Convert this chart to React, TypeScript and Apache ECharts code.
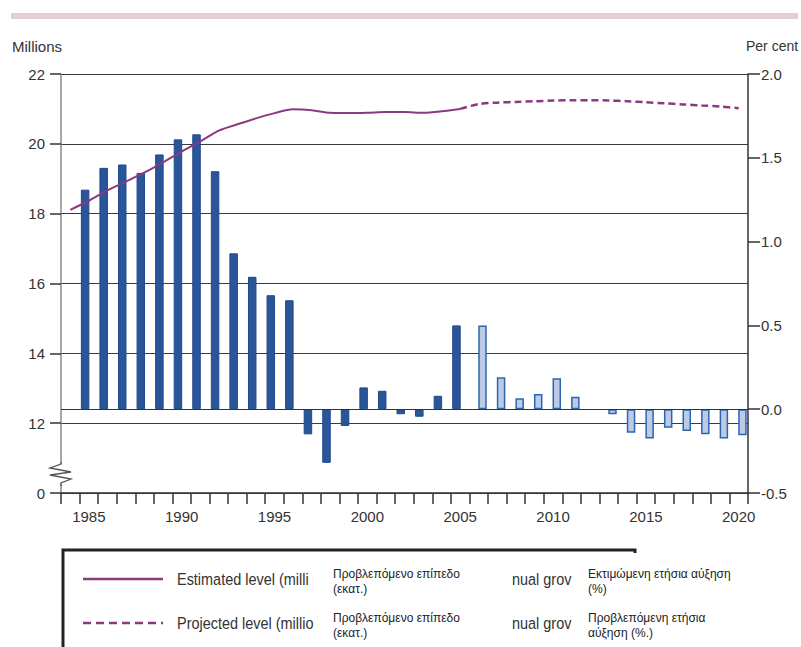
import React, { useEffect, useRef } from "react";
import * as echarts from "echarts";

const years = [
  "1984", "1985", "1986", "1987", "1988", "1989", "1990", "1991", "1992", "1993",
  "1994", "1995", "1996", "1997", "1998", "1999", "2000", "2001", "2002", "2003",
  "2004", "2005", "2006", "2007", "2008", "2009", "2010", "2011", "2012", "2013",
  "2014", "2015", "2016", "2017", "2018", "2019", "2020",
];

// Annual growth (per cent), right axis
const estimatedGrowth = [
  null, 1.31, 1.44, 1.46, 1.41, 1.52, 1.61, 1.64, 1.42, 0.93,
  0.79, 0.68, 0.65, -0.15, -0.32, -0.1, 0.13, 0.11, -0.03, -0.045,
  0.08, 0.5, null, null, null, null, null, null, null, null,
  null, null, null, null, null, null, null,
];
const projectedGrowth = [
  null, null, null, null, null, null, null, null, null, null,
  null, null, null, null, null, null, null, null, null, null,
  null, null, 0.5, 0.19, 0.065, 0.09, 0.185, 0.075, null, -0.03,
  -0.14, -0.175, -0.11, -0.13, -0.15, -0.175, -0.155,
];

// Level (millions), left axis
const estimatedLevel = [
  18.11, 18.37, 18.67, 18.92, 19.18, 19.47, 19.78, 20.07, 20.38, 20.56,
  20.73, 20.88, 20.99, 20.96, 20.89, 20.88, 20.89, 20.91, 20.91, 20.89,
  20.93, 21.0, null, null, null, null, null, null, null, null,
  null, null, null, null, null, null, null,
];
const projectedLevel = [
  null, null, null, null, null, null, null, null, null, null,
  null, null, null, null, null, null, null, null, null, null,
  null, 21.0, 21.14, 21.18, 21.2, 21.22, 21.24, 21.25, 21.25, 21.24,
  21.22, 21.19, 21.16, 21.13, 21.1, 21.07, 21.02,
];

const leftTicks = { min: 10, max: 22, interval: 2 };
const rightTicks = { min: -0.5, max: 2.0, interval: 0.5 };

const legendRows = [
  {
    label: "Estimated level (milli",
    greekLevel: "Προβλεπόμενο επίπεδο\n(εκατ.)",
    growthCut: "nual grov",
    greekGrowth: "Εκτιμώμενη ετήσια αύξηση\n(%)",
    dashed: false,
  },
  {
    label: "Projected level (millio",
    greekLevel: "Προβλεπόμενο επίπεδο\n(εκατ.)",
    growthCut: "nual grov",
    greekGrowth: "Προβλεπόμενη ετήσια\nαύξηση (%.)",
    dashed: true,
  },
];

const PURPLE = "#8c3a7f";
const TICK_FONT = "'Liberation Sans', Arial, sans-serif";

export default function App() {
  const ref = useRef<HTMLDivElement>(null);

  useEffect(() => {
    if (!ref.current) return;
    const chart = echarts.init(ref.current, null, { renderer: "svg" });

    const legendGraphics: any[] = [];
    legendRows.forEach((row, i) => {
      const cy = 579 + i * 44;
      legendGraphics.push({
        type: "line",
        shape: { x1: 83, y1: cy, x2: 163, y2: cy },
        style: {
          stroke: PURPLE,
          lineWidth: 2.5,
          lineDash: row.dashed ? [8, 5] : null,
        },
      });
      legendGraphics.push({
        type: "text",
        x: 177,
        y: cy,
        scaleX: 0.85,
        style: {
          text: row.label,
          font: `17px ${TICK_FONT}`,
          fill: "#333",
          verticalAlign: "middle",
        },
      });
      legendGraphics.push({
        type: "text",
        x: 333,
        y: cy - 13,
        style: {
          text: row.greekLevel,
          font: `12px ${TICK_FONT}`,
          lineHeight: 15,
          fill: "#222",
          verticalAlign: "top",
        },
      });
      legendGraphics.push({
        type: "text",
        x: 512,
        y: cy,
        scaleX: 0.85,
        style: {
          text: row.growthCut,
          font: `17px ${TICK_FONT}`,
          fill: "#333",
          verticalAlign: "middle",
        },
      });
      legendGraphics.push({
        type: "text",
        x: 588,
        y: cy - 13,
        style: {
          text: row.greekGrowth,
          font: `12px ${TICK_FONT}`,
          lineHeight: 15,
          fill: "#222",
          verticalAlign: "top",
        },
      });
    });

    const option: any = {
      animation: false,
      backgroundColor: "#ffffff",
      grid: { left: 61, top: 74, width: 687, height: 419, containLabel: false },
      xAxis: {
        type: "category",
        data: years,
        boundaryGap: true,
        axisLine: { show: true, onZero: false, lineStyle: { color: "#333", width: 1.5 } },
        axisTick: {
          show: true,
          interval: 0,
          length: 11,
          inside: false,
          lineStyle: { color: "#333", width: 1.5 },
        },
        axisLabel: {
          interval: (idx: number, val: string) => Number(val) % 5 === 0,
          margin: 16,
          fontSize: 15,
          fontFamily: TICK_FONT,
          color: "#333",
        },
        splitLine: { show: false },
      },
      yAxis: [
        {
          type: "value",
          position: "left",
          min: leftTicks.min,
          max: leftTicks.max,
          interval: leftTicks.interval,
          axisLine: { show: true, lineStyle: { color: "#8a8a8a", width: 1.5 } },
          axisTick: { show: true, length: 11, lineStyle: { color: "#333", width: 1.5 } },
          axisLabel: {
            margin: 16,
            fontSize: 15,
            fontFamily: TICK_FONT,
            color: "#333",
            formatter: (v: number) => (v === leftTicks.min ? "0" : String(v)),
          },
          splitLine: { show: true, lineStyle: { color: "#3a3a3a", width: 1.2 } },
        },
        {
          type: "value",
          position: "right",
          min: rightTicks.min,
          max: rightTicks.max,
          interval: rightTicks.interval,
          axisLine: { show: true, lineStyle: { color: "#333", width: 1.5 } },
          axisTick: { show: true, length: 12, lineStyle: { color: "#333", width: 1.5 } },
          axisLabel: {
            margin: 13,
            fontSize: 15,
            fontFamily: TICK_FONT,
            color: "#333",
            formatter: (v: number) => v.toFixed(1),
          },
          splitLine: { show: false },
        },
      ],
      series: [
        {
          name: "Estimated annual growth",
          type: "bar",
          yAxisIndex: 1,
          data: estimatedGrowth,
          barWidth: 8.5,
          barGap: "-12%",
          itemStyle: { color: "#2a5699", borderColor: "#1d4a8c", borderWidth: 1 },
          markLine: {
            silent: true,
            symbol: "none",
            label: { show: false },
            lineStyle: { color: "#333", width: 1.2, type: "solid" },
            data: [{ yAxis: 0 }],
          },
          z: 3,
        },
        {
          name: "Projected annual growth",
          type: "bar",
          yAxisIndex: 1,
          data: projectedGrowth,
          barWidth: 8.5,
          barGap: "-12%",
          itemStyle: { color: "#bdcae6", borderColor: "#2c66b0", borderWidth: 1.5 },
          z: 3,
        },
        {
          name: "Estimated level (millions)",
          type: "line",
          yAxisIndex: 0,
          data: estimatedLevel,
          smooth: 0.3,
          showSymbol: false,
          lineStyle: { color: PURPLE, width: 2 },
          z: 5,
        },
        {
          name: "Projected level (millions)",
          type: "line",
          yAxisIndex: 0,
          data: projectedLevel,
          smooth: 0.3,
          showSymbol: false,
          lineStyle: { color: PURPLE, width: 2.5, type: [7, 4] },
          z: 5,
        },
      ],
      graphic: [
        {
          type: "rect",
          shape: { x: 11, y: 13, width: 787, height: 6 },
          style: { fill: "#e3cddb" },
        },
        {
          type: "text",
          x: 12,
          y: 46,
          style: {
            text: "Millions",
            font: `15px ${TICK_FONT}`,
            fill: "#333",
            verticalAlign: "middle",
          },
        },
        {
          type: "text",
          x: 746,
          y: 46,
          style: {
            text: "Per cent",
            font: `14px ${TICK_FONT}`,
            fill: "#333",
            verticalAlign: "middle",
          },
        },
        // axis break
        {
          type: "rect",
          shape: { x: 57, y: 464, width: 8, height: 20 },
          style: { fill: "#ffffff" },
          z: 50,
        },
        {
          type: "polyline",
          shape: {
            points: [
              [61, 462], [61, 464], [50, 468], [71, 472], [50, 475],
              [71, 479], [61, 483], [61, 486],
            ],
          },
          style: { stroke: "#555", lineWidth: 1.3, fill: null },
          z: 51,
        },
        // legend box
        {
          type: "polyline",
          shape: { points: [[63, 647], [63, 550], [635, 550], [635, 553]] },
          style: { stroke: "#222", lineWidth: 3, fill: null },
        },
        ...legendGraphics,
      ],
    };

    chart.setOption(option);
    return () => chart.dispose();
  }, []);

  return (
    <div
      ref={ref}
      style={{ position: "absolute", left: 0, top: 0, width: 801, height: 647 }}
    />
  );
}
